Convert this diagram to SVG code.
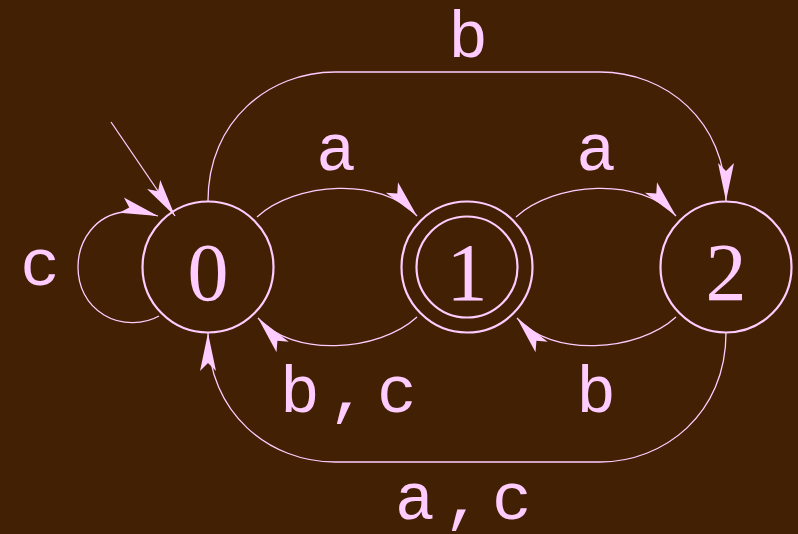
<svg xmlns="http://www.w3.org/2000/svg" width="798" height="534" viewBox="0 0 798 534">
<style>
.node{fill:none;stroke:#ffccff;stroke-width:2.2}
.edge{fill:none;stroke:#ffccff;stroke-width:1.3}
.num{font-family:"Liberation Serif",serif;font-size:82px;fill:#ffccff;text-anchor:middle}
.lbl{font-family:"Liberation Mono",monospace;font-size:66px;fill:#ffccff}
.mid{text-anchor:middle}
</style>
<defs>
<marker id="ah" markerUnits="userSpaceOnUse" viewBox="-40 -10 42 20" refX="0" refY="0" markerWidth="42" markerHeight="20" orient="auto">
<path d="M0,0 L-38,-8 L-30,0 L-38,8 Z" fill="#ffccff"/>
</marker>
</defs>
<rect x="0" y="0" width="798" height="534" fill="#422004"/>
<g id="connectors">
<path id="e-init" class="edge" d="M111,122 L175,216" marker-end="url(#ah)"/>
<path id="e-0-0" class="edge" d="M159,316 C145,324 122,326 104,315 C86,304 78,286 78,267 C78,240 96,215 124,212 C136,211 148,213 158,216" marker-end="url(#ah)"/>
<path id="e-0-1" class="edge" d="M257,217 C295,182 382,176 417,216" marker-end="url(#ah)"/>
<path id="e-1-2" class="edge" d="M516,217 C554,182 641,176 676,216" marker-end="url(#ah)"/>
<path id="e-1-0" class="edge" d="M417,317 C379,352 292,358 258,318" marker-end="url(#ah)"/>
<path id="e-2-1" class="edge" d="M676,317 C638,352 551,358 517,318" marker-end="url(#ah)"/>
<path id="e-0-2" class="edge" d="M208,201 C208,120 270,72 335,72 L600,72 C665,72 726,120 726,201" marker-end="url(#ah)"/>
<path id="e-2-0" class="edge" d="M726,333 C726,414 664,462 600,462 L335,462 C270,462 208,414 208,333" marker-end="url(#ah)"/>
<text class="lbl mid" x="40" y="285">c</text>
<text class="lbl mid" x="336" y="170">a</text>
<text class="lbl mid" x="596" y="170">a</text>
<text class="lbl mid" x="468" y="57">b</text>
<text class="lbl mid" x="596" y="412">b</text>
<text class="lbl" x="280" y="412" letter-spacing="8.9">b,c</text>
<text class="lbl" x="395" y="519" letter-spacing="8.9">a,c</text>
</g>
<g id="node-0">
<circle class="node" cx="208" cy="267" r="65.5"/>
<text class="num" x="208" y="300">0</text>
</g>
<g id="node-1">
<circle class="node" cx="467" cy="267" r="65.5"/>
<circle class="node" cx="467" cy="267" r="50.5"/>
<text class="num" x="467" y="300">1</text>
</g>
<g id="node-2">
<circle class="node" cx="726" cy="267" r="65.5"/>
<text class="num" x="726" y="300">2</text>
</g>
</svg>
